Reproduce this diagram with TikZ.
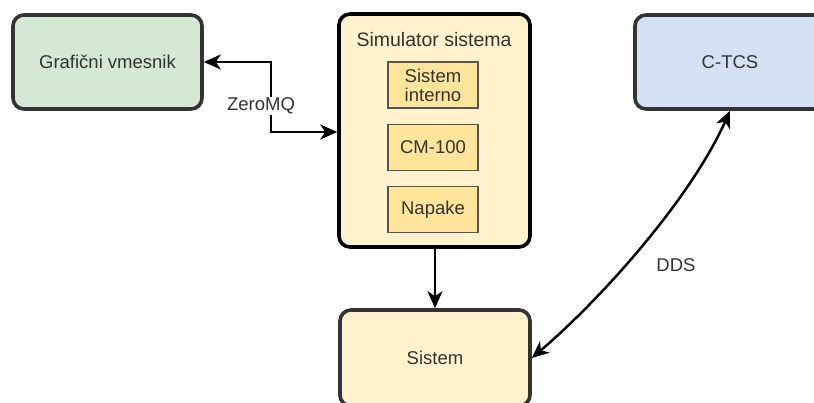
\documentclass[tikz,border=0pt]{standalone}
\usepackage{fontspec}
\setmainfont{Liberation Sans}
\usetikzlibrary{arrows.meta}
\definecolor{txt}{HTML}{333333}
\definecolor{edge}{HTML}{333333}
\definecolor{greenfill}{HTML}{D5E8D4}
\definecolor{bluefill}{HTML}{D4E1F5}
\definecolor{yellowfill}{HTML}{FFF2CC}
\definecolor{innerfill}{HTML}{FFE599}
\definecolor{innerline}{HTML}{555555}
\tikzset{
  tip/.tip={Stealth[length=17pt,width=15pt,inset=5pt]},
  block/.style={draw=edge, line width=3.6pt, rounded corners=11pt, text=txt,
    font=\fontsize{18.5}{22}\selectfont, align=center, inner sep=0pt},
  innerbox/.style={draw=innerline, line width=1.3pt, fill=innerfill, text=txt,
    minimum width=90pt, minimum height=46pt, inner sep=0pt, align=center,
    font=\fontsize{18.5}{20}\selectfont},
  conn/.style={line width=2.5pt, draw=black, tip-tip},
  oneway/.style={line width=2.5pt, draw=black, -tip},
  lbl/.style={text=txt, fill=white, inner sep=1pt, font=\fontsize{18.5}{22}\selectfont}
}
\begin{document}
\begin{tikzpicture}[x=1pt, y=-1pt]
  \useasboundingbox (0,0) rectangle (814,403);
  \clip (0,0) rectangle (814,403);

  % top row
  \node[block, fill=greenfill, minimum width=189pt, minimum height=94pt] (gui) at (107.5,62) {Grafični vmesnik};
  \node[block, fill=bluefill, minimum width=190pt, minimum height=94pt] (ctcs) at (730,62) {C-TCS};

  % simulator with its parts
  \node[block, draw=black, fill=yellowfill, minimum width=191pt, minimum height=233pt] (sim) at (434.5,130.5) {};
  \node[text=txt, font=\fontsize{19.5}{22}\selectfont, inner sep=0pt] (simtitle) at (434,40) {Simulator sistema};
  \node[innerbox] (intern) at (433,85) {Sistem\\[-1pt]interno};
  \node[innerbox] (cm) at (433,147.5) {CM-100};
  \node[innerbox] (napake) at (433,209.5) {Napake};

  % system
  \node[block, fill=yellowfill, minimum width=190pt, minimum height=96pt] (sys) at (435,358) {Sistem};

  % connectors
  \draw[conn] (gui.east) -- (271,62) |- ([yshift=-1.5pt]sim.west);
  \node[lbl] (zmq) at (261,106) {ZeroMQ};

  \draw[oneway] (sim.south -| sys.north) -- (sys.north);

  \draw[conn] (sys.east) .. controls (600,300) and (690,200) .. (ctcs.south);
  \node[text=txt, font=\fontsize{18.5}{22}\selectfont] (dds) at (676,265) {DDS};
\end{tikzpicture}
\end{document}
